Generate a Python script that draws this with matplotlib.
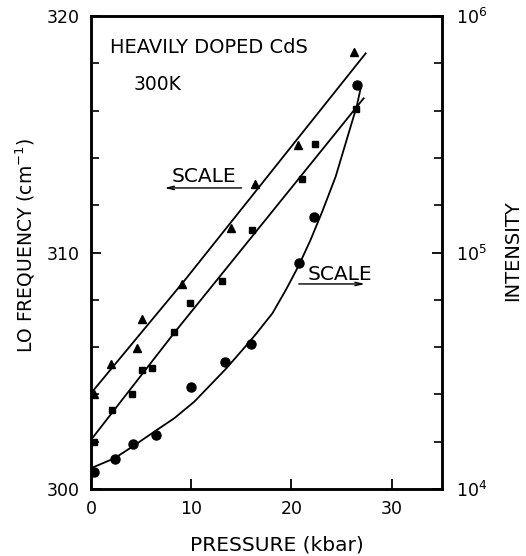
import numpy as np
import matplotlib
matplotlib.use('Agg')
import matplotlib.pyplot as plt

plt.rcParams['font.family'] = ['DejaVu Sans']

# datos leidos de la figura
# triangulos (frecuencia LO)
tri_p = [0.3, 2.0, 4.6, 5.1, 9.1, 14.0, 16.4, 20.7, 26.2]
tri_f = [304.0, 305.27, 305.95, 307.2, 308.68, 311.05, 312.88, 314.53, 318.47]
tri_fit_p = [0.0, 9.3, 27.4]
tri_fit_f = [304.05, 308.8, 318.42]

# cuadrados
sq_p = [0.3, 2.1, 4.1, 5.1, 6.1, 8.3, 9.9, 13.1, 16.1, 21.0, 22.3, 26.4]
sq_f = [302.0, 303.33, 304.0, 305.02, 305.13, 306.65, 307.85, 308.78, 310.95, 313.11, 314.57, 316.05]
sq_fit_p = [0.0, 8.3, 27.2]
sq_fit_f = [302.08, 306.6, 316.52]

# circulos (intensidad, escala derecha)
circ_p = [0.3, 2.4, 4.2, 6.5, 10.0, 13.4, 16.0, 20.8, 22.2, 26.5]
circ_logI = [4.073, 4.126, 4.192, 4.228, 4.433, 4.536, 4.612, 4.954, 5.149, 5.708]
circ_fit_p = [0.0, 2.35, 4.34, 6.3, 8.3, 10.3, 11.8, 13.5, 15.8, 16.45, 18.1, 19.43,
              20.75, 21.9, 23.07, 24.4, 25.7, 26.5, 26.9]
circ_fit_logI = [4.088, 4.13, 4.185, 4.242, 4.299, 4.369, 4.435, 4.51, 4.622, 4.655, 4.743, 4.841,
                 4.947, 5.053, 5.173, 5.32, 5.504, 5.617, 5.694]

fig = plt.figure(figsize=(5.26, 5.56), dpi=100)
ax = fig.add_axes([0.173, 0.1205, 0.667, 0.8507])
ax2 = ax.twinx()

ax.plot(tri_fit_p, tri_fit_f, color='black', lw=1.3)
ax.plot(tri_p, tri_f, '^', color='black', ms=5.5)
ax.plot(sq_fit_p, sq_fit_f, color='black', lw=1.3)
ax.plot(sq_p, sq_f, 's', color='black', ms=5)

ax2.set_yscale('log')
ax2.plot(circ_fit_p, 10 ** np.array(circ_fit_logI), color='black', lw=1.3)
ax2.plot(circ_p, 10 ** np.array(circ_logI), 'o', color='black', ms=6.5)

ax.set_xlim(0, 35)
ax.set_ylim(300, 320)
ax2.set_ylim(1e4, 1e6)

ax.set_xticks([0, 10, 20, 30])
ax.set_yticks([300, 310, 320])
ax.set_yticks(np.arange(300, 321, 2), minor=True)
ax.tick_params(axis='both', which='major', direction='in', length=7, width=1.3,
               labelsize=12.5, right=True, pad=8)
ax.tick_params(axis='y', which='minor', direction='in', length=6, width=1.2, right=True)
ax.tick_params(axis='x', which='minor', bottom=False)

ax2.set_yticks([1e4, 1e5, 1e6])
ax2.set_yticklabels(['10$^4$', '10$^5$', '10$^6$'])
ax2.minorticks_off()
ax2.tick_params(axis='y', direction='in', length=0, labelsize=12.5, pad=10)

for sp in ax.spines.values():
    sp.set_linewidth(1.8)
for sp in ax2.spines.values():
    sp.set_linewidth(1.8)

fig.text(25 / 526, 1 - 245 / 556, 'LO FREQUENCY (cm$^{-1}$)', fontsize=13.5, rotation=90,
         ha='center', va='center')
fig.text(513 / 526, 1 - 251 / 556, 'INTENSITY', fontsize=14, rotation=90,
         ha='center', va='center')
fig.text(277 / 526, 1 - 545 / 556, 'PRESSURE (kbar)', fontsize=14.5, ha='center', va='center')

ax.text(1.9, 318.65, 'HEAVILY DOPED CdS', fontsize=14, va='center')
ax.text(4.2, 317.1, '300K', fontsize=13.5, va='center')
ax.text(8.0, 313.2, 'SCALE', fontsize=14.5, va='center')
ax.annotate('', xy=(7.05, 312.73), xytext=(15.3, 312.73),
            arrowprops=dict(arrowstyle='->,head_length=0.5,head_width=0.12', lw=1, color='black'))
ax.text(21.6, 309.05, 'SCALE', fontsize=14.5, va='center')
ax.annotate('', xy=(27.6, 308.67), xytext=(20.45, 308.67),
            arrowprops=dict(arrowstyle='->,head_length=0.5,head_width=0.12', lw=1, color='black'))

plt.savefig('out.png', dpi=100)
